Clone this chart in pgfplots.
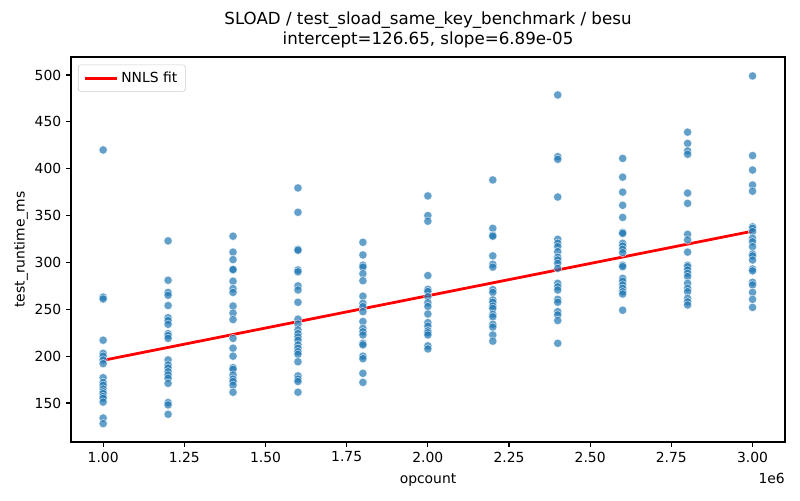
\documentclass[border=0pt]{standalone}
\usepackage{pgfplots}
\pgfplotsset{compat=1.18}
\usepackage{fontspec}
\setmainfont{DejaVu Sans}
\definecolor{tabblue}{HTML}{1F77B4}
\begin{document}
\begin{tikzpicture}[x=1bp,y=1bp]
\useasboundingbox (0,0) rectangle (576,360);
\begin{axis}[
  at={(51.12bp,41.76bp)}, anchor=south west,
  scale only axis, width=514.08bp, height=277.2bp,
  xmin=0.901, xmax=3.10, ymin=108.4, ymax=519.2,
  xtick={1,1.25,1.5,1.75,2,2.25,2.5,2.75,3},
  ytick={150,200,250,300,350,400,450,500},
  xticklabel style={/pgf/number format/.cd,fixed,fixed zerofill,precision=2},
  /pgf/number format/assume math mode=true,
  tick label style={font=\fontsize{10bp}{12bp}\selectfont},
  label style={font=\fontsize{10bp}{12bp}\selectfont},
  tick align=outside, tick pos=left,
  major tick length=3.5bp,
  every tick/.style={black, line width=0.8bp},
  axis line style={line width=0.8bp},
  xlabel={opcount}, ylabel={test\_runtime\_ms},
  xlabel style={yshift=-1.5bp},
  ylabel style={yshift=-2bp},
  legend style={at={(rel axis cs:0,1)}, anchor=north west, xshift=5bp, yshift=-5.5bp,
    draw=black!20, rounded corners=2bp, font=\fontsize{10bp}{12bp}\selectfont,
    inner xsep=4bp, inner ysep=3bp, row sep=0pt},
  legend cell align=left,
  legend image code/.code={\draw[#1, line width=2bp] (0bp,0bp) -- (23bp,0bp);},
  clip=false,
]
\addplot[only marks, mark=*, mark size=3bp, mark options={fill=tabblue, draw=white, line width=0.4bp, opacity=0.7}, forget plot] table {
x y
1.0 420
1.0 263
1.0 261
1.0 217
1.0 203
1.0 200
1.0 196
1.0 192
1.0 177
1.0 172
1.0 169
1.0 165
1.0 162
1.0 160
1.0 157
1.0 155
1.0 151
1.0 134
1.0 128
1.2 323
1.2 281
1.2 268
1.2 265
1.2 254
1.2 241
1.2 238
1.2 234
1.2 224
1.2 222
1.2 219
1.2 196
1.2 190.6
1.2 187.4
1.2 183.4
1.2 180
1.2 176.5
1.2 171
1.2 150.5
1.2 148
1.2 138
1.4 328
1.4 311
1.4 303
1.4 292
1.4 292.5
1.4 280
1.4 272
1.4 268
1.4 253.5
1.4 246
1.4 239
1.4 219
1.4 208.5
1.4 200
1.4 187.7
1.4 186
1.4 180
1.4 175.5
1.4 173
1.4 169
1.4 161.5
1.6 379.5
1.6 353.5
1.6 314
1.6 313
1.6 292
1.6 290
1.6 275
1.6 270.6
1.6 257.5
1.6 239.5
1.6 234.3
1.6 228
1.6 224
1.6 220.5
1.6 217
1.6 212
1.6 208.4
1.6 204.8
1.6 202
1.6 194
1.6 179
1.6 175.6
1.6 173
1.6 161.5
1.8 321.5
1.8 308
1.8 297
1.8 295
1.8 288
1.8 280.5
1.8 264
1.8 256.4
1.8 252.8
1.8 247.5
1.8 237
1.8 229.7
1.8 226
1.8 222.6
1.8 213.7
1.8 212
1.8 200
1.8 197.3
1.8 181.7
1.8 172
2.0 371
2.0 350
2.0 344
2.0 286
2.0 271.3
2.0 269
2.0 263.5
2.0 257
2.0 253
2.0 245
2.0 235.7
2.0 232
2.0 227
2.0 225
2.0 222.6
2.0 211
2.0 207.7
2.2 388
2.2 336.4
2.2 329
2.2 328
2.2 307
2.2 298
2.2 295
2.2 271
2.2 268
2.2 260
2.2 257.5
2.2 253.5
2.2 251
2.2 244.7
2.2 242
2.2 234
2.2 231
2.2 222.6
2.2 216
2.4 478.7
2.4 412.8
2.4 410
2.4 369.8
2.4 324.7
2.4 320.5
2.4 316.8
2.4 311.5
2.4 305.5
2.4 302.6
2.4 299
2.4 293.7
2.4 277.7
2.4 274
2.4 270.6
2.4 260.6
2.4 257.5
2.4 247.5
2.4 244
2.4 238
2.4 213.7
2.6 411
2.6 391
2.6 375
2.6 361
2.6 348
2.6 332
2.6 331
2.6 320.4
2.6 317.5
2.6 314
2.6 310.4
2.6 297
2.6 295.5
2.6 283
2.6 280
2.6 276
2.6 272.4
2.6 268.8
2.6 266.3
2.6 249
2.8 439
2.8 427
2.8 419
2.8 415.4
2.8 374
2.8 363
2.8 330
2.8 324
2.8 311
2.8 297
2.8 295.5
2.8 292
2.8 288.4
2.8 285
2.8 277.7
2.8 272.4
2.8 268.8
2.8 261.7
2.8 258
2.8 254.6
3.0 499
3.0 414
3.0 398.6
3.0 382.6
3.0 376
3.0 338
3.0 336.4
3.0 333
3.0 325.8
3.0 322
3.0 316.8
3.0 309
3.0 307
3.0 302.6
3.0 293
3.0 291
3.0 278.8
3.0 276
3.0 268
3.0 260.6
3.0 252
};
\addplot[red, line width=2bp] coordinates {(1.0,195.55) (3.0,333.35)};
\addlegendentry{NNLS fit}
\node[anchor=south, align=center, font=\fontsize{12bp}{14.4bp}\selectfont, inner sep=0pt] at ([yshift=6bp]rel axis cs:0.5,1) {SLOAD / test\_sload\_same\_key\_benchmark / besu\\intercept=126.65, slope=6.89e-05};
\node[anchor=north east, inner sep=0pt, font=\fontsize{10bp}{12bp}\selectfont] at ([yshift=-22bp]rel axis cs:1,0) {1e6};
\end{axis}
\end{tikzpicture}
\end{document}
